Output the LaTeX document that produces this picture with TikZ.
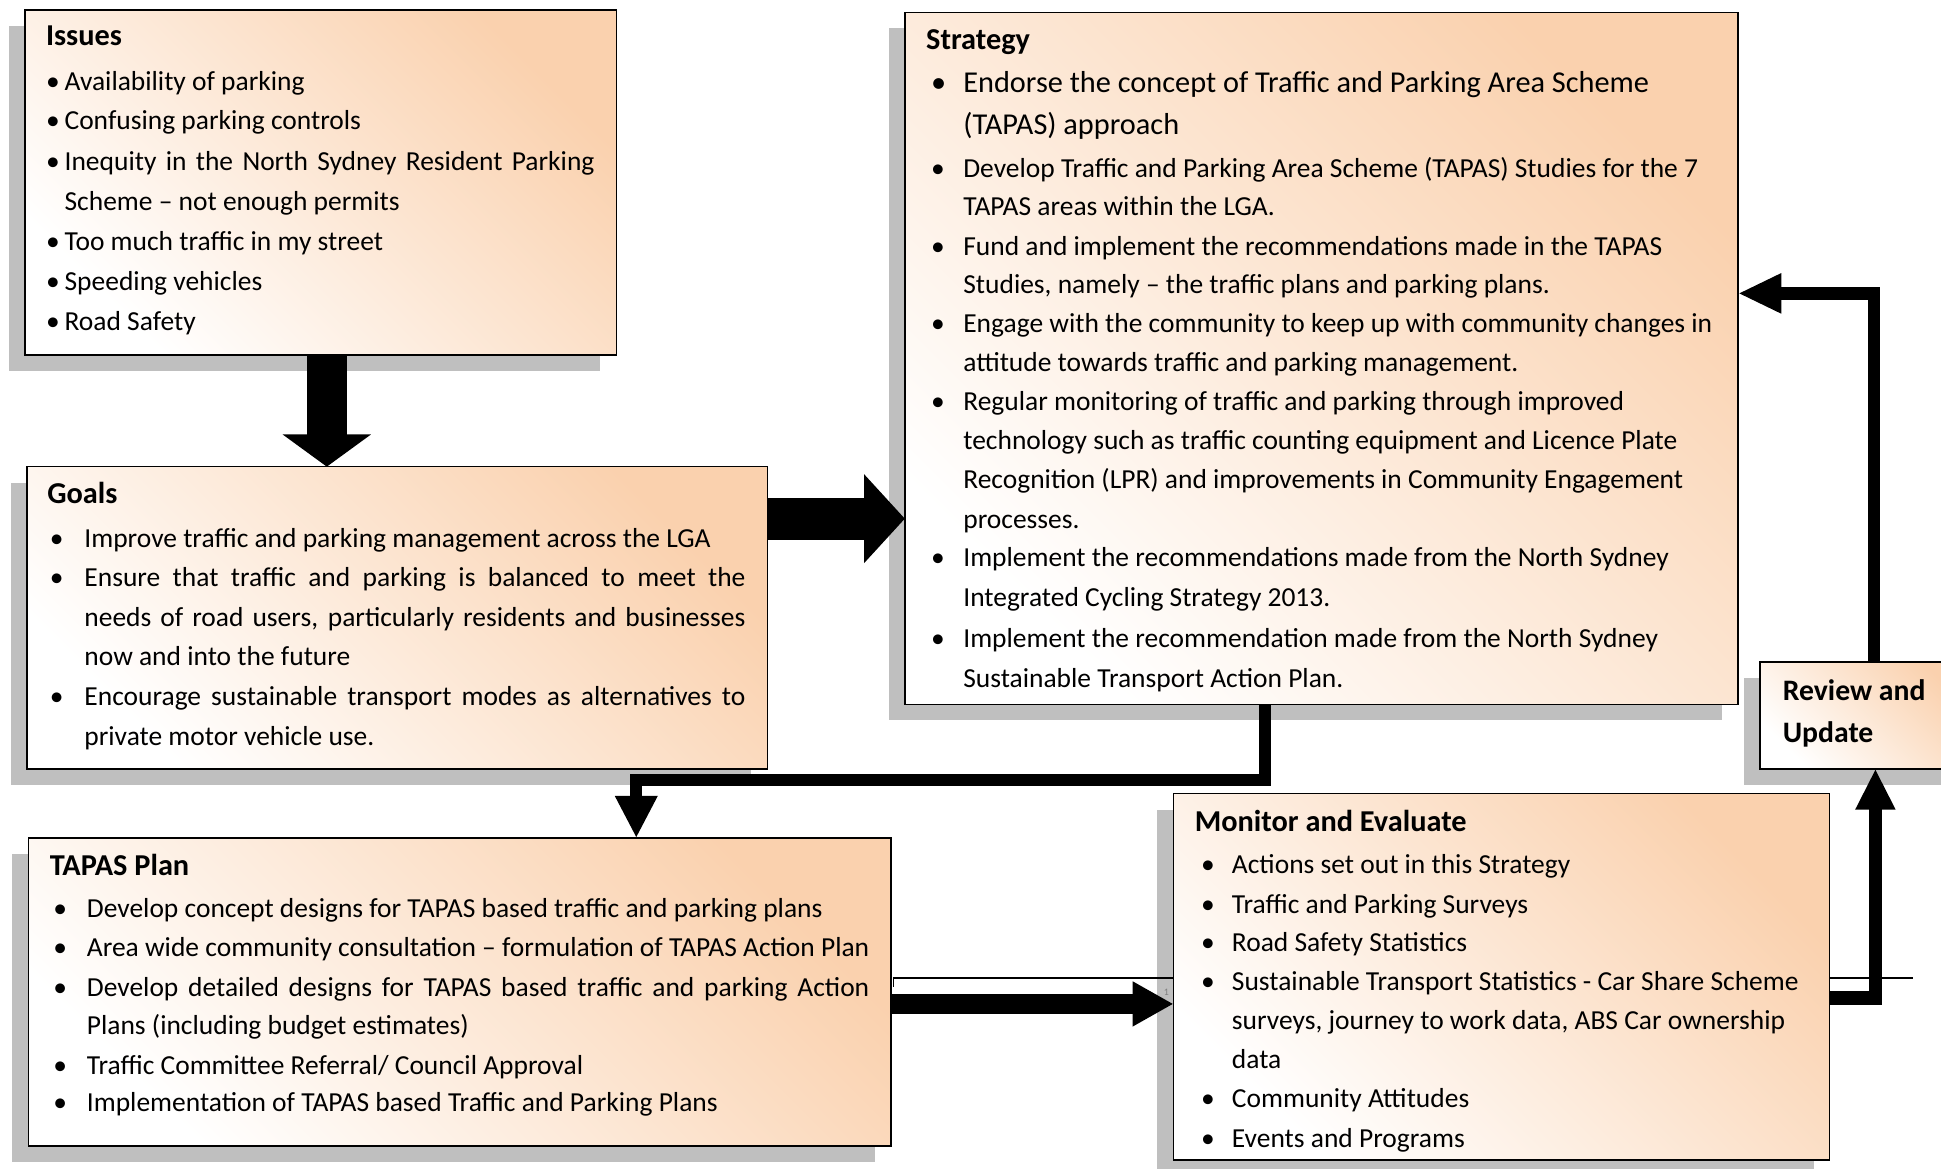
\documentclass[tikz,border=0pt]{standalone}
\usepackage{fontspec}
\setmainfont{Carlito}
\usetikzlibrary{arrows.meta,shadows,calc}
\definecolor{peach}{RGB}{250,209,174}
\definecolor{shadowgray}{RGB}{191,191,191}
\newcounter{ln}
\newcommand\tl[3]{\stepcounter{ln}\node[txt] (t\arabic{ln}) at (#1,#2+1) {#3};}
\newcommand\bt[4]{\stepcounter{ln}\node[txt] (b\arabic{ln}) at (#1,#3+1) {\textbullet};\node[txt] (t\arabic{ln}) at (#2,#3+1) {#4};}
\newcommand\ttl[3]{\stepcounter{ln}\node[ttxt] (t\arabic{ln}) at (#1,#2+1) {#3};}
\begin{document}
\begin{tikzpicture}[x=1pt,y=-1pt,
  box/.style={draw=black, line width=1.3pt, top color=peach, bottom color=white, shading angle=-45,
    anchor=north west, inner sep=0pt, outer sep=0pt,
    general shadow={fill=shadowgray, shadow xshift=-13pt, shadow yshift=-13pt}},
  txt/.style={anchor=base west, inner sep=0pt, font=\fontsize{22.2}{22.2}\selectfont},
  ttxt/.style={anchor=base west, inner sep=0pt, font=\fontsize{24.5}{24.5}\selectfont\bfseries},
  bigtxt/.style={anchor=base west, inner sep=0pt, font=\fontsize{24.5}{24.5}\selectfont},
  conn/.style={line join=miter, line cap=butt, draw=black}]
\useasboundingbox (0,0) rectangle (1568,944);

% boxes
\node[box, minimum width=478pt, minimum height=279pt] (issues) at (20,8) {};
\node[box, minimum width=598pt, minimum height=244pt] (goals) at (22,377) {};
\node[box, minimum width=673pt, minimum height=559pt] (strategy) at (731,10) {};
\node[box, minimum width=697pt, minimum height=249pt] (tapas) at (23,677) {};
\node[box, minimum width=530pt, minimum height=296pt] (monitor) at (948,641) {};
\node[box, minimum width=170pt, minimum height=86pt] (review) at (1422,535) {};

% Issues
\ttl{37}{36}{Issues}
\bt{37}{52}{72}{Availability of parking}
\bt{37}{52}{104}{Confusing parking controls}
\bt{37}{52}{137}{\makebox[428pt][s]{Inequity in the North Sydney Resident Parking}}
\tl{52}{169}{Scheme – not enough permits}
\bt{37}{52}{201}{Too much traffic in my street}
\bt{37}{52}{234}{Speeding vehicles}
\bt{37}{52}{266}{Road Safety}

% Goals
\ttl{38}{406}{Goals}
\bt{40}{68}{441}{Improve traffic and parking management across the LGA}
\bt{40}{68}{473}{\makebox[534pt][s]{Ensure that traffic and parking is balanced to meet the}}
\tl{68}{505}{\makebox[534pt][s]{needs of road users, particularly residents and businesses}}
\tl{68}{537}{now and into the future}
\bt{40}{68}{569}{\makebox[534pt][s]{Encourage sustainable transport modes as alternatives to}}
\tl{68}{601}{private motor vehicle use.}

% Strategy
\ttl{748}{39}{Strategy}
\stepcounter{ln}\node[bigtxt] (b\arabic{ln}) at (752,75) {\textbullet};
\node[bigtxt] (t\arabic{ln}) at (778,75) {Endorse the concept of Traffic and Parking Area Scheme};
\stepcounter{ln}\node[bigtxt] (t\arabic{ln}) at (778,109) {(TAPAS) approach};
\bt{752}{778}{142}{Develop Traffic and Parking Area Scheme (TAPAS) Studies for the 7}
\tl{778}{173}{TAPAS areas within the LGA.}
\bt{752}{778}{205}{Fund and implement the recommendations made in the TAPAS}
\tl{778}{236}{Studies, namely – the traffic plans and parking plans.}
\bt{752}{778}{268}{Engage with the community to keep up with community changes in}
\tl{778}{299}{attitude towards traffic and parking management.}
\bt{752}{778}{331}{Regular monitoring of traffic and parking through improved}
\tl{778}{362}{technology such as traffic counting equipment and Licence Plate}
\tl{778}{394}{Recognition (LPR) and improvements in Community Engagement}
\tl{778}{426}{processes.}
\bt{752}{778}{457}{Implement the recommendations made from the North Sydney}
\tl{778}{489}{Integrated Cycling Strategy 2013.}
\bt{752}{778}{522}{Implement the recommendation made from the North Sydney}
\tl{778}{554}{Sustainable Transport Action Plan.}

% TAPAS Plan
\ttl{40}{706}{TAPAS Plan}
\bt{43}{70}{740}{Develop concept designs for TAPAS based traffic and parking plans}
\bt{43}{70}{772}{Area wide community consultation – formulation of TAPAS Action Plan}
\bt{43}{70}{804}{\makebox[632pt][s]{Develop detailed designs for TAPAS based traffic and parking Action}}
\tl{70}{835}{Plans (including budget estimates)}
\bt{43}{70}{867}{Traffic Committee Referral/ Council Approval}
\bt{43}{70}{897}{Implementation of TAPAS based Traffic and Parking Plans}

% Monitor and Evaluate
\ttl{965}{671}{Monitor and Evaluate}
\bt{970}{995}{705}{Actions set out in this Strategy}
\bt{970}{995}{737}{Traffic and Parking Surveys}
\bt{970}{995}{768}{Road Safety Statistics}
\bt{970}{995}{799}{Sustainable Transport Statistics - Car Share Scheme}
\tl{995}{831}{surveys, journey to work data, ABS Car ownership}
\tl{995}{862}{data}
\bt{970}{995}{894}{Community Attitudes}
\bt{970}{995}{926}{Events and Programs}

% Review and Update
\stepcounter{ln}\node[ttxt, font=\fontsize{24}{24}\selectfont\bfseries] (t\arabic{ln}) at (1440,566) {Review and};
\stepcounter{ln}\node[ttxt, font=\fontsize{24}{24}\selectfont\bfseries] (t\arabic{ln}) at (1440,600) {Update};

% thin stray lines and page number
\coordinate (l1a) at (722,797);
\coordinate (l1b) at (722,790);
\draw[line width=1pt] (l1a) -- (l1b) -- (l1b -| monitor.west);
\coordinate (l2a) at (1478,790);
\coordinate (l2b) at (1545,790);
\draw[line width=1pt] (l2a) -- (l2b);
\node[inner sep=0pt, anchor=base west, font=\fontsize{8}{8}\selectfont, text=gray] (pg) at (940,804) {1};

% connectors
\coordinate (a1s) at (264,287);
\draw[conn, line width=32pt, -{Triangle[width=70pt,length=26pt]}] (a1s) -- (a1s |- goals.north);

\coordinate (a2s) at (620,419);
\draw[conn, line width=34pt, -{Triangle[width=70pt,length=33pt]}] (a2s) -- (a2s -| strategy.west);

\coordinate (a3s) at (1022,569);
\coordinate (a3e) at (514,677);
\draw[conn, line width=10pt, -{Triangle[width=32pt,length=34pt]}] (a3s) -- ++(0,61) -| (a3e);

\coordinate (a4s) at (720,811);
\draw[conn, line width=16pt, -{Triangle[width=34pt,length=33pt]}] (a4s) -- (a4s -| monitor.west);

\coordinate (a5s) at (1478,806);
\coordinate (a5e) at (1515,621);
\draw[conn, line width=11pt, -{Triangle[width=30pt,length=33pt]}] (a5s) -| (a5e);

\coordinate (a6s) at (1514,535);
\coordinate (a6e) at (1404,237);
\draw[conn, line width=10pt, -{Triangle[width=30pt,length=35pt]}] (a6s) |- (a6e);
\end{tikzpicture}
\end{document}
